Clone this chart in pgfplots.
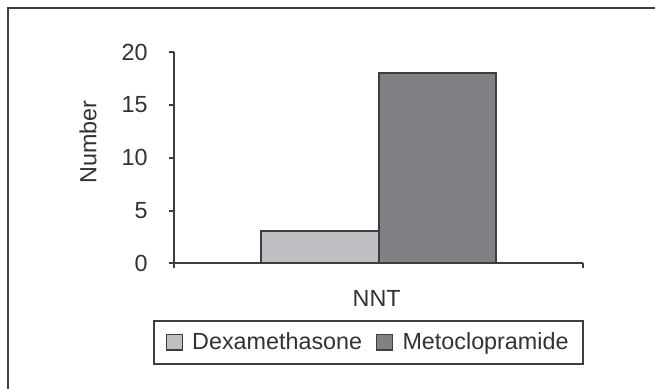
\documentclass[border=0pt]{standalone}
\usepackage{fontspec}
\setmainfont{Liberation Sans}
\usepackage{pgfplots}
\pgfplotsset{compat=1.18}

\definecolor{inkgray}{RGB}{62,62,64}
\definecolor{textgray}{RGB}{50,50,52}
\definecolor{lightbar}{RGB}{190,191,194}
\definecolor{darkbar}{RGB}{128,129,133}

\begin{document}
\begin{tikzpicture}
  % page extent and the open frame along the top and left
  \path[use as bounding box] (-130.5pt,-94pt) rectangle (360.75pt,197.5pt);
  \draw[inkgray, line width=1pt] (-124.5pt,-94pt) -- (-124.5pt,191.5pt) -- (360.75pt,191.5pt);
  \begin{axis}[
    scale only axis,
    width=306.75pt, height=158.25pt,
    axis lines*=left,
    axis line style={inkgray, line width=1.5pt},
    xmin=-0.5, xmax=0.5,
    ymin=0, ymax=20,
    ytick={0,5,10,15,20},
    xtick={-0.5,0.5},
    xticklabels={},
    tick align=outside,
    major tick length=3.75pt,
    tick style={inkgray, line width=1.5pt},
    /pgf/number format/assume math mode=true,
    tick label style={font=\fontsize{17.5}{21}\selectfont, text=textgray},
    yticklabel shift=12.5pt,
    ylabel={Number},
    ylabel style={font=\fontsize{17.5}{21}\selectfont, text=textgray,
      at={(axis description cs:-0.21,0.575)}, anchor=center},
    xlabel={NNT},
    xlabel style={font=\fontsize{17.5}{21}\selectfont, text=textgray,
      at={(axis description cs:0.4955,-0.168)}, anchor=center},
    ybar=0pt,
    bar width=0.287,
    legend columns=2,
    legend style={
      at={(axis description cs:0.4756,-0.374)}, anchor=center,
      draw=inkgray, line width=1.5pt,
      font=\fontsize{17.5}{21}\selectfont, text=textgray,
      inner xsep=9pt, inner ysep=7pt,
      /tikz/every odd column/.append style={column sep=5pt},
      /tikz/every even column/.append style={column sep=8.5pt},
    },
    legend image code/.code={%
      \draw[#1, line width=1pt] (0pt,-5.9pt) rectangle (11.8pt,5.9pt);},
  ]
    \addplot[draw=inkgray, fill=lightbar, line width=1.5pt, bar shift=-0.1435]
      coordinates {(0,3.1)};
    \addlegendentry{Dexamethasone}
    \addplot[draw=inkgray, fill=darkbar, line width=1.5pt, bar shift=0.1435]
      coordinates {(0,18)};
    \addlegendentry{Metoclopramide}
  \end{axis}
\end{tikzpicture}
\end{document}
